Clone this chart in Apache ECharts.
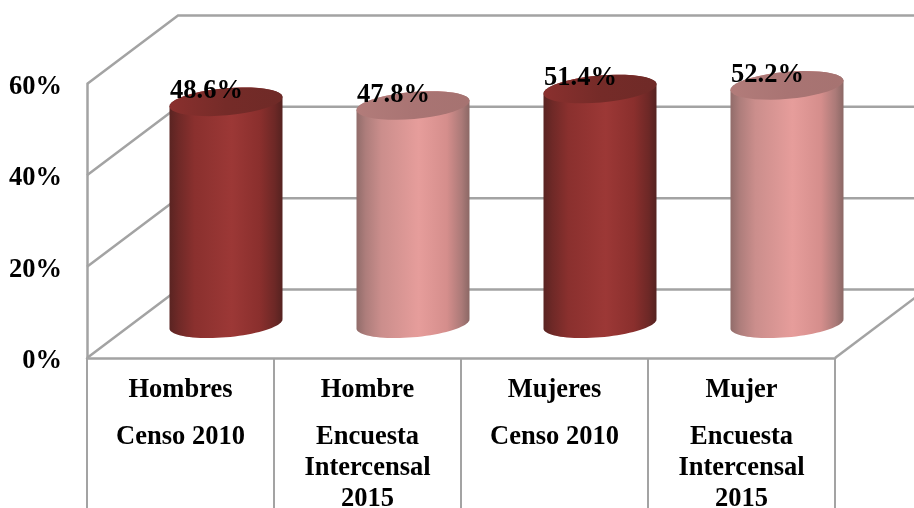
<!DOCTYPE html>
<html>
<head>
<meta charset="utf-8">
<style>
    html, body { margin: 0; padding: 0; background: #fff; }
    #chart { width: 914px; height: 508px; }
</style>
<script src="https://cdn.jsdelivr.net/npm/echarts@6/dist/echarts.min.js"></script>
</head>
<body>
<div id="chart"></div>
<script>
    var categories = [
        'Hombres\nCenso 2010',
        'Hombre\nEncuesta\nIntercensal\n2015',
        'Mujeres\nCenso 2010',
        'Mujer\nEncuesta\nIntercensal\n2015'
    ];
    var values = [48.6, 47.8, 51.4, 52.2];
    var yTicks = [0, 20, 40, 60];

    var FONT = '"Liberation Serif", "Times New Roman", serif';
    var FONT_SIZE = 26.5;
    var GRID_COLOR = '#a3a3a3';
    // fake 3D: how far the back wall sits from the front plane
    var DEPTH_X = 91;
    var DEPTH_Y = 68.5;

    var darkBody = [[0, '#5a2422'], [0.08, '#6f2927'], [0.22, '#8a302e'], [0.55, '#9c3836'], [0.8, '#8a2f2d'], [0.93, '#6d2826'], [1, '#552220']];
    var lightBody = [[0, '#916c6a'], [0.08, '#ad7d7b'], [0.22, '#cb8e8c'], [0.55, '#e69d9b'], [0.8, '#d58e8c'], [0.93, '#ab7a78'], [1, '#8b6865']];
    var darkTop = [[0, '#8a302e'], [0.5, '#752b28'], [1, '#6f2a27']];
    var lightTop = [[0, '#b27c7a'], [0.5, '#a97473'], [1, '#a67371']];

    function gradient(stops) {
        return new echarts.graphic.LinearGradient(0, 0, 1, 0, stops.map(function (s) {
            return {offset: s[0], color: s[1]};
        }));
    }

    function ellipseArc(cx, cy, a, b, tilt, t0, t1) {
        var pts = [];
        for (var i = 0; i <= 40; i++) {
            var t = t0 + (t1 - t0) * i / 40;
            pts.push([
                cx + a * Math.cos(t) * Math.cos(tilt) - b * Math.sin(t) * Math.sin(tilt),
                cy + a * Math.cos(t) * Math.sin(tilt) + b * Math.sin(t) * Math.cos(tilt)
            ]);
        }
        return pts;
    }

    function renderWall(params, api) {
        var sys = params.coordSys;
        var y = api.coord([0, api.value(0)])[1];
        var left = sys.x;
        var backLeft = left + DEPTH_X;
        var backRight = left + sys.width + DEPTH_X;
        var style = {stroke: GRID_COLOR, lineWidth: 2.5, fill: null};
        var children = [{
            type: 'polyline',
            shape: {points: [[left, y], [backLeft, y - DEPTH_Y], [backRight, y - DEPTH_Y]]},
            style: style
        }];
        if (api.value(0) === 0) {
            // floor edge on the right
            children.push({
                type: 'line',
                shape: {x1: left + sys.width, y1: y, x2: backRight, y2: y - DEPTH_Y},
                style: style
            });
        }
        return {type: 'group', children: children};
    }

    function renderCylinder(params, api) {
        var i = api.value(0);
        var v = api.value(1);
        var base = api.coord([i, 0]);
        var top = api.coord([i, v]);
        var cx = base[0] + DEPTH_X / 2;
        var baseY = base[1] - DEPTH_Y / 2;
        var topY = top[1] - DEPTH_Y / 2;
        var a = 56.7, b = 13.5, tilt = -5 * Math.PI / 180;
        var t0 = Math.atan(-(b / a) * Math.tan(tilt));
        var lower = ellipseArc(cx, baseY, a, b, tilt, t0, t0 + Math.PI);
        var upper = ellipseArc(cx, topY, a, b, tilt, t0 + Math.PI, t0 + 2 * Math.PI);
        var isLight = i % 2 === 1;
        return {
            type: 'group',
            children: [{
                type: 'polygon',
                shape: {points: lower.concat(upper)},
                style: {fill: gradient(isLight ? lightBody : darkBody)}
            }, {
                type: 'polygon',
                shape: {points: ellipseArc(cx, topY, a, b, tilt, 0, 2 * Math.PI)},
                style: {fill: gradient(isLight ? lightTop : darkTop)}
            }, {
                type: 'text',
                style: {
                    x: cx - 19.5,
                    y: topY - 10.5,
                    text: v.toFixed(1) + '%',
                    fill: '#000',
                    font: 'bold ' + FONT_SIZE + 'px ' + FONT,
                    align: 'center',
                    verticalAlign: 'middle'
                }
            }]
        };
    }

    var mycharts = echarts.init(document.getElementById('chart'));
    var option = {
        animation: false,
        backgroundColor: '#fff',
        grid: {left: 87, right: 79, top: 84, bottom: 150, outerBoundsMode: 'none'},
        xAxis: {
            type: 'category',
            data: categories,
            boundaryGap: true,
            axisLine: {lineStyle: {color: GRID_COLOR, width: 2.5}},
            axisTick: {show: true, length: 150, alignWithLabel: false, lineStyle: {color: GRID_COLOR, width: 2}},
            axisLabel: {
                interval: 0,
                margin: 1,
                color: '#000',
                fontFamily: FONT,
                fontWeight: 'bold',
                fontSize: FONT_SIZE,
                formatter: function (value) {
                    return value.split('\n').map(function (line, n) {
                        return (n === 0 ? '{head|' : '{rest|') + line + '}';
                    }).join('\n');
                },
                rich: {
                    head: {lineHeight: 63, fontFamily: FONT, fontWeight: 'bold', fontSize: FONT_SIZE, color: '#000'},
                    rest: {lineHeight: 31, fontFamily: FONT, fontWeight: 'bold', fontSize: FONT_SIZE, color: '#000'}
                }
            }
        },
        yAxis: {
            type: 'value',
            min: 0,
            max: 60,
            interval: 20,
            splitLine: {show: false},
            axisTick: {show: false},
            axisLine: {show: true, lineStyle: {color: GRID_COLOR, width: 2.5}},
            axisLabel: {
                margin: 25,
                formatter: '{tick|{value}%}',
                rich: {
                    tick: {
                        padding: [6, 0, 0, 0],
                        color: '#000',
                        fontFamily: FONT,
                        fontWeight: 'bold',
                        fontSize: FONT_SIZE
                    }
                }
            }
        },
        series: [{
            type: 'custom',
            silent: true,
            coordinateSystem: 'cartesian2d',
            renderItem: renderWall,
            encode: {y: 0},
            data: yTicks.map(function (t) { return [t]; }),
            z: 1
        }, {
            type: 'custom',
            silent: true,
            coordinateSystem: 'cartesian2d',
            renderItem: renderCylinder,
            encode: {x: 0, y: 1},
            data: values.map(function (v, i) { return [i, v]; }),
            z: 5
        }]
    };
    mycharts.setOption(option);
</script>
</body>
</html>
